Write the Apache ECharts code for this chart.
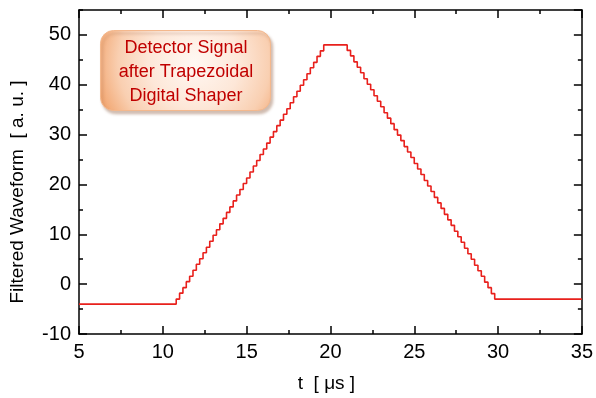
<!DOCTYPE html>
<html>
<head>
<meta charset="utf-8">
<script src="https://cdn.jsdelivr.net/npm/echarts@6/dist/echarts.min.js"></script>
<style>
html,body{margin:0;padding:0;background:#fff;}
#c{width:596px;height:398px;}
</style>
</head>
<body>
<div id="c"></div>
<script>
// Baseline before the pulse
const baseStart = [5, -4];
// Rising edge (sample times in µs, filtered amplitude)
const riseTimes = [10.8, 11.0, 11.2, 11.4, 11.6, 11.8, 12.0, 12.2, 12.4, 12.6, 12.8, 13.0, 13.2, 13.4, 13.6, 13.8, 14.0, 14.2, 14.4, 14.6, 14.8, 15.0, 15.2, 15.4, 15.6, 15.8, 16.0, 16.2, 16.4, 16.6, 16.8, 17.0, 17.2, 17.4, 17.6, 17.8, 18.0, 18.2, 18.4, 18.6, 18.8, 19.0, 19.2, 19.4, 19.6];
const riseValues = [-3, -1.8, -0.7, 0.5, 1.6, 2.8, 4.0, 5.1, 6.3, 7.4, 8.6, 9.8, 10.9, 12.1, 13.2, 14.4, 15.5, 16.7, 17.9, 19.0, 20.2, 21.3, 22.5, 23.7, 24.8, 26.0, 27.1, 28.3, 29.5, 30.6, 31.8, 32.9, 34.1, 35.2, 36.4, 37.6, 38.7, 39.9, 41.0, 42.2, 43.4, 44.5, 45.7, 46.8, 48.0];
// Falling edge
const fallTimes = [21.0, 21.2, 21.4, 21.6, 21.8, 22.0, 22.2, 22.4, 22.6, 22.8, 23.0, 23.2, 23.4, 23.6, 23.8, 24.0, 24.2, 24.4, 24.6, 24.8, 25.0, 25.2, 25.4, 25.6, 25.8, 26.0, 26.2, 26.4, 26.6, 26.8, 27.0, 27.2, 27.4, 27.6, 27.8, 28.0, 28.2, 28.4, 28.6, 28.8, 29.0, 29.2, 29.4, 29.6, 29.8];
const fallValues = [46.9, 45.8, 44.6, 43.5, 42.4, 41.2, 40.1, 39.0, 37.8, 36.7, 35.6, 34.4, 33.3, 32.2, 31.0, 29.9, 28.8, 27.6, 26.5, 25.4, 24.2, 23.1, 22.0, 20.8, 19.7, 18.6, 17.4, 16.3, 15.2, 14.0, 12.9, 11.8, 10.6, 9.5, 8.4, 7.2, 6.1, 5.0, 3.8, 2.7, 1.6, 0.4, -0.7, -1.9, -3.0];
// Baseline after the pulse
const baseEnd = [35, -3];

const xTicks = [5, 10, 15, 20, 25, 30, 35];
const yTicks = [-10, 0, 10, 20, 30, 40, 50];
const annotationLines = ['Detector Signal', 'after Trapezoidal', 'Digital Shaper'];
const xTitle = 't  [ μs ]';
const yTitle = 'Filtered Waveform  [ a. u. ]';

const data = [baseStart];
riseTimes.forEach((t, i) => data.push([t, riseValues[i]]));
fallTimes.forEach((t, i) => data.push([t, fallValues[i]]));
data.push(baseEnd);

const FONT = '"Liberation Sans", Arial, sans-serif';
const lineStyle = {color: '#000', width: 1.5};

function xAx(pos, labels) {
  return {
    type: 'value', position: pos, min: xTicks[0], max: xTicks[xTicks.length - 1], interval: 5,
    axisLine: {show: true, lineStyle: lineStyle, onZero: false},
    axisTick: {show: true, inside: true, length: 8, lineStyle: {color: '#000', width: 1.5}},
    minorTick: {show: true, splitNumber: 2, length: 4, lineStyle: {color: '#000', width: 1.5}},
    axisLabel: {show: labels, color: '#000', fontSize: 20, fontFamily: FONT, margin: 8},
    splitLine: {show: false},
    name: labels ? xTitle : '', nameLocation: 'middle', nameGap: 40,
    nameTextStyle: {color: '#000', fontSize: 19, fontFamily: FONT, padding: [0, 8, 0, 0]}
  };
}
function yAx(pos, labels, interval, len, line) {
  return {
    type: 'value', position: pos, min: yTicks[0], max: 55, interval: interval,
    axisLine: {show: line, lineStyle: lineStyle, onZero: false},
    axisTick: {show: true, inside: true, length: len, lineStyle: {color: '#000', width: 1.5}},
    axisLabel: {show: labels, color: '#000', fontSize: 20, fontFamily: FONT, margin: 8, showMaxLabel: false},
    splitLine: {show: false},
    name: labels ? yTitle : '', nameLocation: 'middle', nameGap: 52,
    nameTextStyle: {color: '#000', fontSize: 19, fontFamily: FONT, padding: [0, 40, 0, 0]}
  };
}

const chart = echarts.init(document.getElementById('c'));
chart.setOption({
  backgroundColor: '#fff',
  animation: false,
  grid: {left: 79, right: 11, top: 10, bottom: 63, containLabel: false},
  xAxis: [xAx('bottom', true), xAx('top', false)],
  yAxis: [
    yAx('left', true, 10, 8, true),
    yAx('right', false, 10, 8, true),
    yAx('left', false, 5, 4, false),
    yAx('right', false, 5, 4, false)
  ],
  series: [{
    type: 'line', xAxisIndex: 0, yAxisIndex: 0, step: 'end', showSymbol: false,
    data: data, lineStyle: {color: '#e8201c', width: 1.6}, z: 3
  }],
  graphic: [
    {
      type: 'rect', left: 100, top: 30, z: 10,
      shape: {width: 170, height: 80, r: 13},
      style: {
        fill: new echarts.graphic.RadialGradient(0.55, 0.4, 1.25, [
          {offset: 0, color: '#fff8f3'},
          {offset: 0.45, color: '#fde7d8'},
          {offset: 0.75, color: '#f9cfb1'},
          {offset: 1, color: '#f2a56f'}
        ]),
        stroke: '#f4b88d', lineWidth: 1,
        shadowColor: 'rgba(140,90,60,0.4)', shadowBlur: 3, shadowOffsetX: 2, shadowOffsetY: 3
      }
    },
    {
      type: 'text', x: 186, y: 72, z: 11,
      style: {
        text: annotationLines.join('\n'), fill: '#c00000', font: '18px ' + FONT,
        align: 'center', verticalAlign: 'middle', lineHeight: 24
      }
    }
  ]
});
</script>
</body>
</html>
